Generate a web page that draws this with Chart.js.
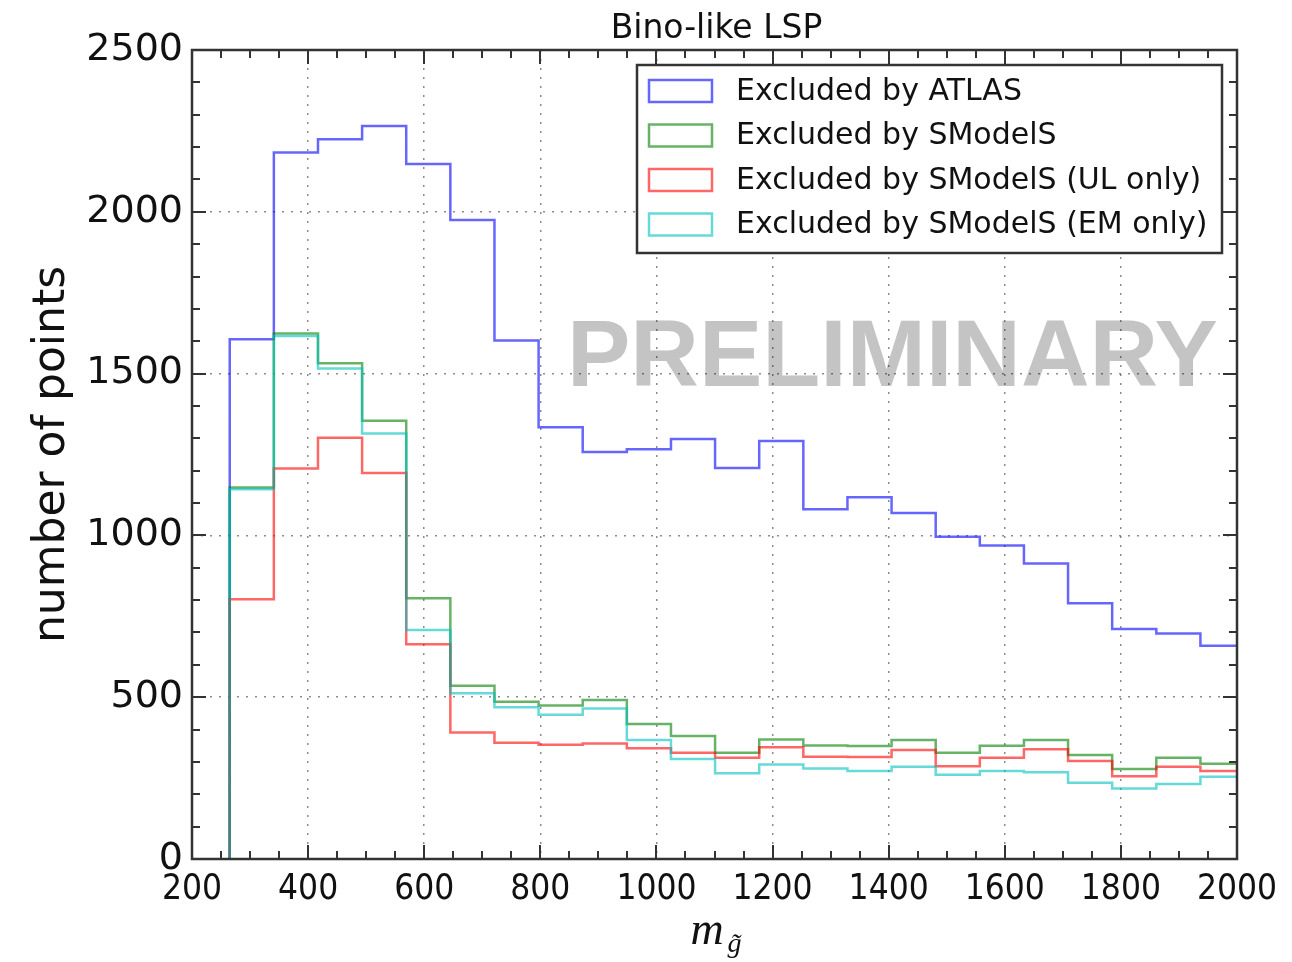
<!DOCTYPE html>
<html>
<head>
<meta charset="utf-8">
<title>Bino-like LSP</title>
<script src="https://cdn.jsdelivr.net/npm/chart.js@4.4.1/dist/chart.umd.min.js"></script>
<style>
  html, body { margin: 0; padding: 0; background: #fff; }
  #wrap { width: 1292px; height: 962px; position: relative; }
</style>
</head>
<body>
<div id="wrap"><canvas id="histChart"></canvas></div>
<script>
// histogram bins (gluino mass), last edge runs past the axis and is clipped
const binEdges = [265, 341, 417, 493, 569, 645, 721, 797, 873, 949, 1025, 1101,
  1177, 1253, 1329, 1405, 1481, 1557, 1633, 1709, 1785, 1861, 1937, 2013];

const atlasCounts = [1606, 2183, 2224, 2265, 2148, 1975, 1602, 1334, 1258, 1266, 1298, 1208,
  1292, 1081, 1118, 1069, 996, 969, 913, 790, 711, 697, 659];
const smodelsCounts = [1148, 1624, 1532, 1354, 806, 535, 486, 474, 491, 417, 380, 328,
  369, 351, 349, 368, 328, 350, 368, 321, 278, 313, 294];
const ulOnlyCounts = [803, 1207, 1302, 1193, 664, 391, 359, 353, 357, 342, 328, 313,
  345, 316, 315, 337, 287, 313, 339, 303, 256, 285, 272];
const emOnlyCounts = [1143, 1616, 1516, 1315, 708, 512, 469, 446, 465, 368, 309, 265,
  292, 280, 272, 285, 260, 272, 268, 236, 218, 232, 254];

const seriesLabels = ['Excluded by ATLAS', 'Excluded by SModelS',
  'Excluded by SModelS (UL only)', 'Excluded by SModelS (EM only)'];
const seriesColors = ['rgba(0,0,255,0.6)', 'rgba(0,128,0,0.6)',
  'rgba(255,0,0,0.6)', 'rgba(0,191,191,0.6)'];

const xTickValues = [200, 400, 600, 800, 1000, 1200, 1400, 1600, 1800, 2000];
const yTickValues = [0, 500, 1000, 1500, 2000, 2500];
const xMinorStep = 50;
const yMinorStep = 100;

const chartTitle = 'Bino-like LSP';
const yTitle = 'number of points';
const watermark = 'PRELIMINARY';

// turn counts into an outline like matplotlib's histtype='step'
function stepPoints(counts) {
  const pts = [{x: binEdges[0], y: 0}];
  counts.forEach((c, i) => pts.push({x: binEdges[i], y: c}));
  pts.push({x: binEdges[counts.length], y: 0});
  return pts;
}

const allCounts = [atlasCounts, smodelsCounts, ulOnlyCounts, emOnlyCounts];

const datasets = allCounts.map((counts, i) => ({
  label: seriesLabels[i],
  data: stepPoints(counts),
  borderColor: seriesColors[i],
  backgroundColor: 'transparent',
  borderWidth: 2.5,
  pointRadius: 0,
  fill: false,
  stepped: 'before',
  order: allCounts.length - i   // later series on top
}));

// frame, inward ticks, title, watermark and legend drawn by hand
const histDecor = {
  id: 'histDecor',
  beforeDraw(chart) {
    const {ctx, chartArea: a} = chart;
    ctx.save();
    ctx.fillStyle = '#fff';
    ctx.fillRect(0, 0, chart.width, chart.height);
    ctx.fillStyle = '#c4c4c4';
    ctx.font = 'bold 95px "Liberation Sans", Arial, sans-serif';
    ctx.textAlign = 'left';
    ctx.textBaseline = 'alphabetic';
    ctx.fillText(watermark, a.left + 375, a.top + 336);
    ctx.restore();
  },
  afterDraw(chart) {
    const {ctx, chartArea: a, scales: {x, y}} = chart;
    ctx.save();

    // ticks on all four sides, pointing in
    ctx.strokeStyle = '#333';
    ctx.lineWidth = 2;
    ctx.beginPath();
    for (let v = x.min; v <= x.max; v += xMinorStep) {
      const px = Math.round(x.getPixelForValue(v));
      const len = xTickValues.includes(v) ? 14 : 8;
      ctx.moveTo(px, a.bottom); ctx.lineTo(px, a.bottom - len);
      ctx.moveTo(px, a.top); ctx.lineTo(px, a.top + len);
    }
    for (let v = y.min; v <= y.max; v += yMinorStep) {
      const py = Math.round(y.getPixelForValue(v));
      const len = yTickValues.includes(v) ? 14 : 8;
      ctx.moveTo(a.left, py); ctx.lineTo(a.left + len, py);
      ctx.moveTo(a.right, py); ctx.lineTo(a.right - len, py);
    }
    ctx.stroke();

    // frame
    ctx.lineWidth = 2.5;
    ctx.strokeRect(a.left, a.top, a.right - a.left, a.bottom - a.top);

    // title
    ctx.fillStyle = '#111';
    ctx.font = '33px "DejaVu Sans", sans-serif';
    ctx.textAlign = 'center';
    ctx.textBaseline = 'alphabetic';
    ctx.fillText(chartTitle, (a.left + a.right) / 2 + 2, a.top - 12);

    // x axis title: m with subscript g~
    const cx = (a.left + a.right) / 2;
    ctx.textAlign = 'left';
    ctx.font = 'italic 46px "Liberation Serif", "DejaVu Serif", serif';
    ctx.fillText('m', cx - 24, a.bottom + 85);
    ctx.font = 'italic 28px "Liberation Serif", "DejaVu Serif", serif';
    ctx.fillText('g\u0303', cx + 13, a.bottom + 93);

    // legend
    const lw = 585, lh = 188;
    const lx = a.right - 15 - lw, ly = a.top + 15;
    ctx.fillStyle = '#fff';
    ctx.fillRect(lx, ly, lw, lh);
    ctx.strokeStyle = '#333';
    ctx.lineWidth = 2.5;
    ctx.strokeRect(lx, ly, lw, lh);
    ctx.font = '30px "DejaVu Sans", sans-serif';
    ctx.textBaseline = 'middle';
    chart.data.datasets.forEach((ds, i) => {
      const cy = ly + 26 + i * 44.5;
      ctx.strokeStyle = ds.borderColor;
      ctx.lineWidth = 2.5;
      ctx.strokeRect(lx + 12, cy - 11, 63, 22);
      ctx.fillStyle = '#111';
      ctx.fillText(ds.label, lx + 99, cy + 1);
    });
    ctx.restore();
  }
};

const chart = new Chart(document.getElementById('histChart'), {
  type: 'line',
  data: { datasets },
  plugins: [histDecor],
  options: {
    responsive: true,
    maintainAspectRatio: false,
    animation: false,
    events: [],
    layout: { padding: { top: 50, right: 55, left: 0, bottom: 0 } },
    plugins: {
      legend: { display: false },
      title: { display: false },
      tooltip: { enabled: false }
    },
    scales: {
      x: {
        type: 'linear',
        min: 200,
        max: 2000,
        afterBuildTicks: s => { s.ticks = xTickValues.map(v => ({value: v})); },
        afterFit: s => { s.height = 103; },
        grid: { color: 'rgba(0,0,0,0.45)', lineWidth: 1.5, drawTicks: false },
        border: { display: false, dash: [2, 7] },
        ticks: {
          autoSkip: false,
          maxRotation: 0,
          padding: 10,
          color: '#111',
          callback: v => String(v),
          font: { family: '"DejaVu Sans Condensed", "DejaVu Sans", sans-serif', size: 35 }
        }
      },
      y: {
        min: 0,
        max: 2500,
        afterBuildTicks: s => { s.ticks = yTickValues.map(v => ({value: v})); },
        afterFit: s => { s.width = 192; },
        grid: { color: 'rgba(0,0,0,0.45)', lineWidth: 1.5, drawTicks: false },
        border: { display: false, dash: [2, 7] },
        ticks: {
          padding: 9,
          color: '#111',
          callback: v => String(v),
          font: { family: '"DejaVu Sans", sans-serif', size: 38 }
        },
        title: {
          display: true,
          text: yTitle,
          color: '#111',
          padding: { top: 26, bottom: 0 },
          font: { family: '"DejaVu Sans", sans-serif', size: 44 }
        }
      }
    }
  }
});
</script>
</body>
</html>
